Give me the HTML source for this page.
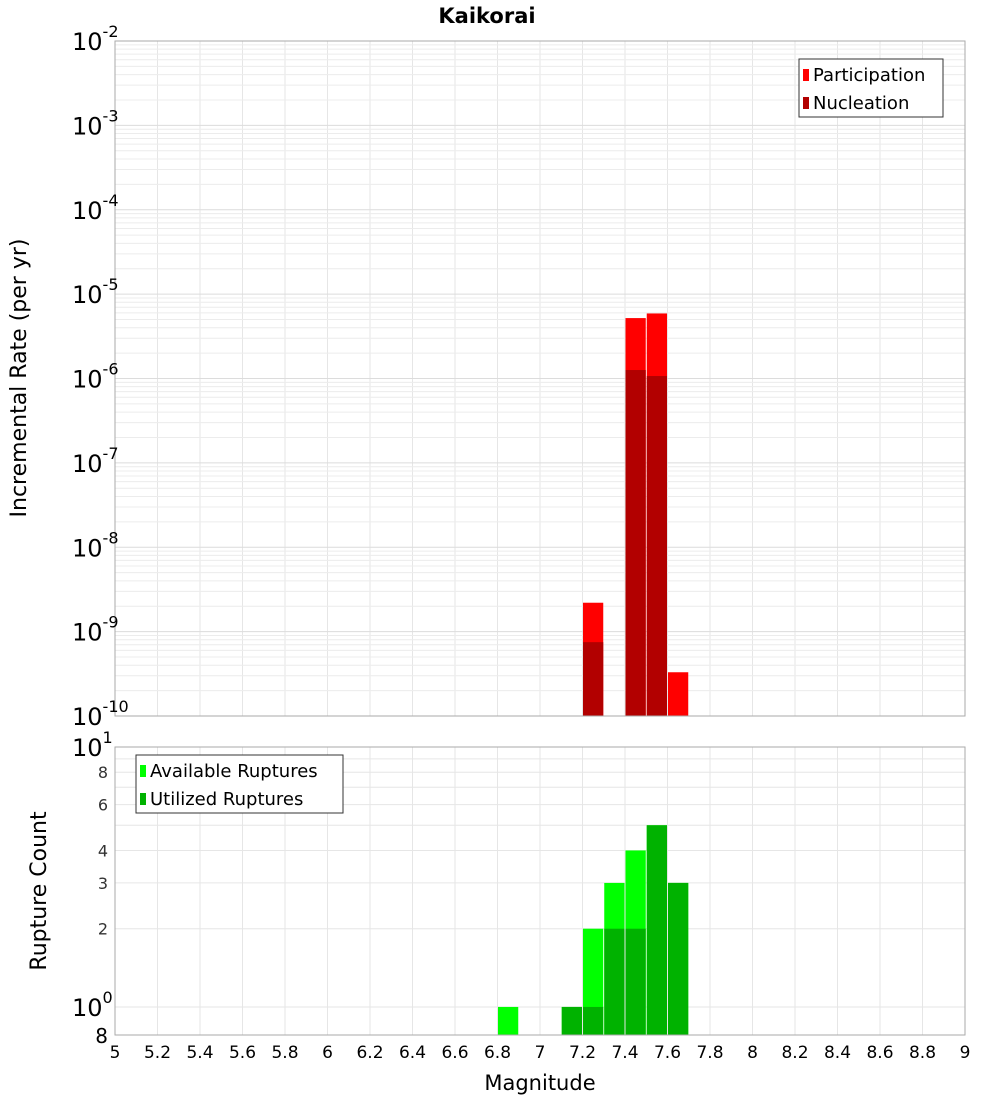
<!DOCTYPE html>
<html><head><meta charset="utf-8"><style>
body{margin:0;background:#fff;}
svg{font-family:"DejaVu Sans","Liberation Sans",sans-serif;}
</style></head><body>
<svg id="c" width="1000" height="1100" xmlns="http://www.w3.org/2000/svg"></svg>
<script>
const binCenters=[6.85,7.15,7.25,7.35,7.45,7.55,7.65];
const participation=[0,0,2.2e-9,0,5.2e-6,5.9e-6,3.3e-10];
const nucleation=[0,0,7.5e-10,0,1.26e-6,1.07e-6,0];
const available=[1,1,2,3,4,5,3];
const utilized=[0,1,1,2,2,5,3];
const xTicks=[5,5.2,5.4,5.6,5.8,6,6.2,6.4,6.6,6.8,7,7.2,7.4,7.6,7.8,8,8.2,8.4,8.6,8.8,9];
const topExps=[-10,-9,-8,-7,-6,-5,-4,-3,-2];
const botTicks=[8,6,4,3,2];

const NS="http://www.w3.org/2000/svg",svg=document.getElementById('c');
function mk(t,a,p){const e=document.createElementNS(NS,t);for(const k in a)e.setAttribute(k,a[k]);(p||svg).appendChild(e);return e;}
const X0=115,X1=965;
const xs=m=>X0+(m-5)/4*(X1-X0);
const T0=716,T1=41;
const ty=v=>T0-(Math.log10(v)+10)/8*(T0-T1);
const B0=1035,B1=747,bmin=0.78;
const by=v=>B0-(Math.log10(v)-Math.log10(bmin))/(1-Math.log10(bmin))*(B0-B1);

// grids
const g=mk('g',{});


for(let m=5;m<=9.001;m+=0.2){
 mk('line',{x1:xs(m),x2:xs(m),y1:T1,y2:T0,stroke:'#e6e6e6'},g);
 mk('line',{x1:xs(m),x2:xs(m),y1:B1,y2:B0,stroke:'#e6e6e6'},g);
}
for(let e=-10;e<-2;e++)for(let k=1;k<10;k++){const y=ty(k*Math.pow(10,e));mk('line',{x1:X0,x2:X1,y1:y,y2:y,stroke:k==1?'#dcdcdc':'#ececec'},g);}
for(let k=1;k<=10;k++){const y=by(k);if(y<=B0)mk('line',{x1:X0,x2:X1,y1:y,y2:y,stroke:'#e6e6e6'},g);}

// bars
const w=(X1-X0)/40;
binCenters.forEach((m,i)=>{
 const x=xs(m)-w/2+0.5;
 if(participation[i]>0){const r=mk('rect',{x:x,y:ty(participation[i]),width:w-1,height:T0-ty(participation[i]),fill:'#ff0000'});
  }
 if(nucleation[i]>0){const r=mk('rect',{x:x,y:ty(nucleation[i]),width:w-1,height:T0-ty(nucleation[i]),fill:'#b20000'});
  }
 if(available[i]>0){const r=mk('rect',{x:x,y:by(available[i]),width:w-1,height:B0-by(available[i]),fill:'#00ff00'});
  }
 if(utilized[i]>0){const r=mk('rect',{x:x,y:by(utilized[i]),width:w-1,height:B0-by(utilized[i]),fill:'#00b200'});
  }
});
// frames
mk('rect',{x:X0,y:T1,width:X1-X0,height:T0-T1,fill:'none',stroke:'#aaa'});
mk('rect',{x:X0,y:B1,width:X1-X0,height:B0-B1,fill:'none',stroke:'#aaa'});

// top y ticks
topExps.forEach(e=>{
 const t=mk('text',{x:72,y:ty(Math.pow(10,e))+9,'font-size':24});
 
 t.textContent='10';
 const s=mk('tspan',{dy:-13,'font-size':16});s.textContent=String(e);t.appendChild(s);
});
// bottom y ticks
botTicks.forEach(v=>{const t=mk('text',{x:108,y:by(v)+6,'font-size':16,'text-anchor':'end',fill:'#333'});
 t.textContent=v;});
[[1,747],[0,by(1)]].forEach(([e,y])=>{const t=mk('text',{x:72,y:y+9,'font-size':24});
 
 t.textContent='10';const s=mk('tspan',{dy:-13,'font-size':16});s.textContent=String(e);t.appendChild(s);});
{const t=mk('text',{x:108,y:1043,'font-size':20,'text-anchor':'end'});t.textContent='8';}
// x ticks
xTicks.forEach(m=>{const t=mk('text',{x:xs(m),y:1058,'font-size':17,'text-anchor':'middle'});
 t.textContent=String(m);});

function txt(s,a,name){const t=mk('text',a);t.textContent=s;return t;}
txt('Kaikorai',{x:487,y:23,'font-size':21,'font-weight':'bold','text-anchor':'middle'},'chart-title');
txt('Magnitude',{x:540,y:1090,'font-size':21,'text-anchor':'middle'},'x-axis-title');
txt('Incremental Rate (per yr)',{x:26,y:378,'font-size':22,'text-anchor':'middle',transform:'rotate(-90 26 378)'},'y-axis-title');
txt('Rupture Count',{x:46,y:891,'font-size':22,'text-anchor':'middle',transform:'rotate(-90 46 891)'},'y2-axis-title');

// legends
function legend(x,y,wd,items,name){
 const lg=mk('g',{});
 mk('rect',{x:x,y:y,width:wd,height:58,fill:'#fff',stroke:'#333'},lg);
 items.forEach(([c,l],i)=>{mk('rect',{x:x+4,y:y+10+i*28,width:6,height:12,fill:c},lg);
  const t=mk('text',{x:x+14,y:y+22+i*28,'font-size':18},lg);t.textContent=l;});
}
legend(799,59,144,[['#ff0000','Participation'],['#b20000','Nucleation']],'top-legend');
legend(136,755,207,[['#00ff00','Available Ruptures'],['#00b200','Utilized Ruptures']],'bottom-legend');
</script>
</body></html>
